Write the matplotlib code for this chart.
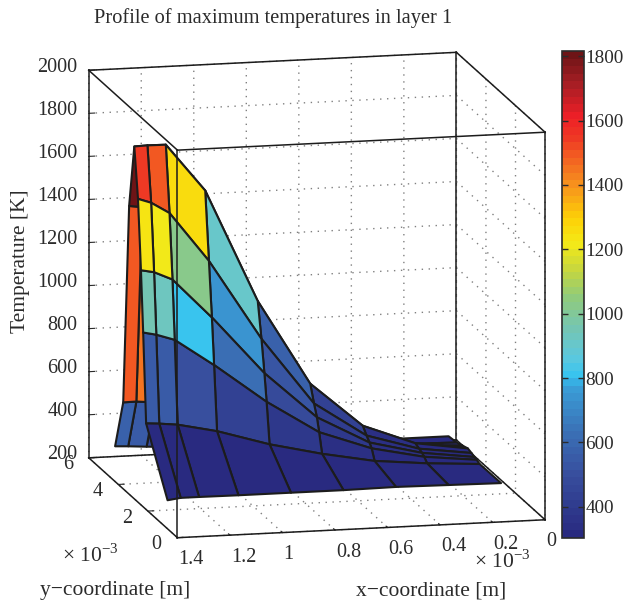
import matplotlib
matplotlib.use('Agg')
import matplotlib.pyplot as plt
import numpy as np
from matplotlib.cm import ScalarMappable
from matplotlib.colors import LinearSegmentedColormap, Normalize
from matplotlib.transforms import offset_copy
from mpl_toolkits.mplot3d import proj3d

plt.rcParams['font.family'] = ['Liberation Serif', 'DejaVu Serif']
plt.rcParams['mathtext.fontset'] = 'custom'
plt.rcParams['mathtext.rm'] = 'Liberation Serif'
plt.rcParams['grid.linestyle'] = (0, (1, 4))
plt.rcParams['grid.color'] = '#808080'
plt.rcParams['grid.linewidth'] = 1.0

# x ascending, rows run from the front of the plate to the back
x_mm = [0.10, 0.30, 0.50, 0.70, 0.90, 1.10, 1.25, 1.32, 1.37]
y_mm = [1.2, 2.65, 2.85, 3.0, 3.2, 3.45, 3.8, 4.2, 4.75]
temps = [
    [302, 305, 308, 305, 305, 305, 306, 306, 298],
    [301, 316, 339, 384, 440, 513, 552, 561, 565],
    [308, 334, 385, 472, 625, 808, 934, 962, 975],
    [312, 343, 403, 532, 749, 1020, 1205, 1243, 1255],
    [318, 350, 423, 584, 896, 1270, 1501, 1553, 1574],
    [324, 360, 453, 660, 1056, 1581, 1803, 1804, 1802],
    [315, 330, 400, 560, 850, 1250, 1450, 1496, 1504],
    [305, 310, 320, 345, 400, 480, 560, 568, 567],
    [300, 300, 302, 305, 305, 310, 320, 326, 329],
]

z_ticks = [200, 400, 600, 800, 1000, 1200, 1400, 1600, 1800, 2000]
x_ticks = [0, 0.2, 0.4, 0.6, 0.8, 1, 1.2, 1.4]
x_labels = ['0', '0.2', '0.4', '0.6', '0.8', '1', '1.2', '1.4']
y_ticks = [0, 2, 4, 6]
cbar_ticks = [400, 600, 800, 1000, 1200, 1400, 1600, 1800]

cmap_temps = [303, 500, 620, 770, 800, 860, 950, 1050, 1130, 1220, 1300, 1400, 1500, 1550, 1620, 1720, 1816]
cmap_colors = ['#292a80', '#38509f', '#3a6fb5', '#3a9fd8', '#34c3f0', '#5cc8de', '#74c5b4', '#90cb7c',
               '#c2d542', '#f4ea17', '#fdd006', '#f7941d', '#f25a22', '#ee3a24', '#ee1f27', '#a81e24', '#6e1416']

X, Y = np.meshgrid(x_mm, y_mm)
Z = np.array(temps, dtype=float)

norm = Normalize(303, 1816)
stops = [(t - 303) / (1816 - 303) for t in cmap_temps]
cmap = LinearSegmentedColormap.from_list('temps', list(zip(stops, cmap_colors)), N=64)

fig = plt.figure(figsize=(6.24, 6.04), dpi=100)
ax = fig.add_axes([0.0457, 0.034, 0.9, 0.93], projection='3d', proj_type='ortho')
ax.computed_zorder = False
ax.view_init(elev=12.1, azim=-103.1)
ax.set_box_aspect((377.9, 391.7, 396.8), zoom=1.163)

ax.plot_surface(X, Y, Z, facecolors=cmap(norm(Z)), shade=False, rstride=1, cstride=1,
                edgecolor='#1c1c1c', linewidth=1.5, antialiased=True, zorder=2)

ax.set_xlim(1.4, 0)
ax.set_ylim(0, 6)
ax.set_zlim(200, 2000)
ax.set_xticks(x_ticks)
ax.set_yticks(y_ticks)
ax.set_zticks(z_ticks)
ax.set_xticklabels([])
ax.set_yticklabels([])
ax.set_zticklabels([])

for axis in (ax.xaxis, ax.yaxis, ax.zaxis):
    axis.set_pane_color((1, 1, 1, 0))
    axis.pane.set_edgecolor((1, 1, 1, 0))
    axis.line.set_color((1, 1, 1, 0))
    axis._axinfo['tick']['inward_factor'] = 0
    axis._axinfo['tick']['outward_factor'] = 0.2
ax.tick_params(colors='#2b2b2b')

M = ax.get_proj()


def tick_text(x, y, z, s, right, up, ha):
    # project the tick position to the 2D view, then shift the label by right/up pixels
    px, py, _ = proj3d.proj_transform(x, y, z, M)
    ax.text2D(px, py, s, transform=offset_copy(ax.transData, fig=fig, x=right, y=up, units='dots'),
              ha=ha, va='center', fontsize=14.5, color='#2b2b2b')


for value, label in zip(x_ticks, x_labels):
    tick_text(value, 0, 200, label, 1, -22, 'left')
for value in y_ticks:
    tick_text(1.4, value, 200, str(value), -21, -7, 'center')
for value in z_ticks:
    tick_text(1.4, 6, value, str(value), -11, 3, 'right')

# box outline: back edges under the surface, front edges over it
x0, x1 = 1.4, 0
y0, y1 = 0, 6
z0, z1 = 200, 2000
box_back = [([x0, x0], [y1, y1], [z0, z1]), ([x1, x1], [y1, y1], [z0, z1]), ([x0, x1], [y1, y1], [z0, z0]),
            ([x1, x1], [y0, y1], [z0, z0]), ([x0, x0], [y0, y1], [z0, z0]), ([x1, x1], [y0, y0], [z0, z1])]
box_front = [([x0, x0], [y0, y0], [z0, z1]), ([x0, x1], [y0, y0], [z1, z1]), ([x0, x0], [y0, y1], [z1, z1]),
             ([x0, x1], [y1, y1], [z1, z1]), ([x1, x1], [y0, y1], [z1, z1]), ([x0, x1], [y0, y0], [z0, z0])]
for xs, ys, zs in box_back:
    ax.plot(xs, ys, zs, color='#1c1c1c', lw=1.1, zorder=1)
for xs, ys, zs in box_front:
    ax.plot(xs, ys, zs, color='#1c1c1c', lw=1.1, zorder=3)

cax = fig.add_axes([562 / 624, (604 - 538) / 604, 22 / 624, 487 / 604])
cbar = fig.colorbar(ScalarMappable(norm=norm, cmap=cmap), cax=cax)
cbar.set_ticks(cbar_ticks)
cax.tick_params(direction='in', left=True, right=True, length=4, width=1, labelsize=13.8, colors='#2b2b2b', pad=1)
cbar.outline.set_edgecolor('#2b2b2b')
cbar.outline.set_linewidth(1.2)

fig.text(273 / 624, 1 - 18 / 604, 'Profile of maximum temperatures in layer 1', ha='center', va='center',
         fontsize=14.7, color='#2b2b2b')
fig.text(21 / 624, 1 - 261 / 604, 'Temperature [K]', rotation=90, ha='center', va='center', fontsize=15.5, color='#2b2b2b')
fig.text(115 / 624, 1 - 591 / 604, 'y\u2212coordinate [m]', ha='center', va='center', fontsize=15.5, color='#2b2b2b')
fig.text(431 / 624, 1 - 591 / 604, 'x\u2212coordinate [m]', ha='center', va='center', fontsize=15.5, color='#2b2b2b')
fig.text(90 / 624, 1 - 555 / 604, '\u00d7 10$^{\u22123}$', ha='center', va='center', fontsize=15.5, color='#2b2b2b')
fig.text(502 / 624, 1 - 561 / 604, '\u00d7 10$^{\u22123}$', ha='center', va='center', fontsize=15.5, color='#2b2b2b')

fig.savefig('out.png', dpi=100)
